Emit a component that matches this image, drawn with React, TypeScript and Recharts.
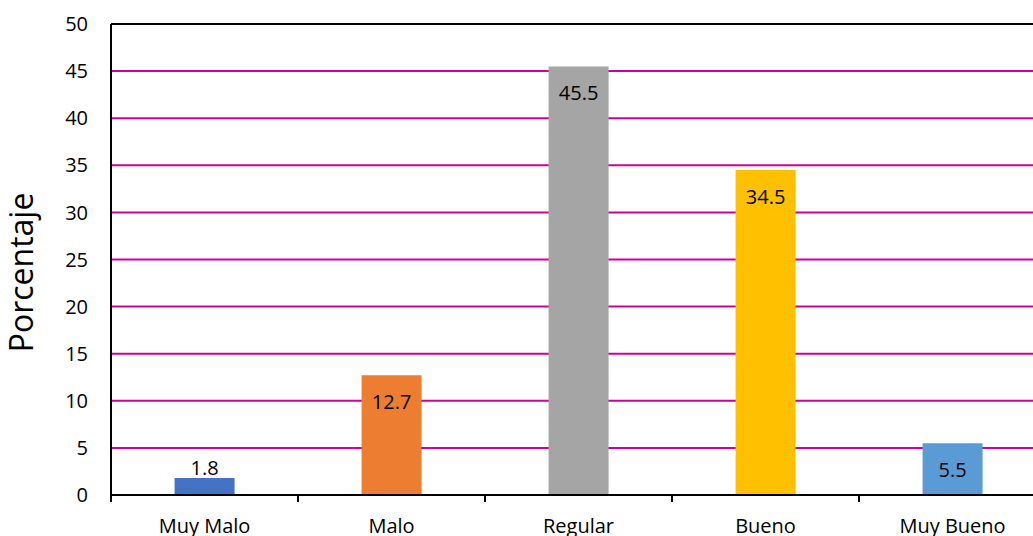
import { BarChart, Bar, XAxis, YAxis, CartesianGrid, Cell, LabelList, ReferenceLine } from "recharts";

const CATEGORIAS = ["Muy Malo", "Malo", "Regular", "Bueno", "Muy Bueno"];
const PORCENTAJES = [1.8, 12.7, 45.5, 34.5, 5.5];
const COLORES = ["#4472C4", "#ED7D31", "#A5A5A5", "#FFC000", "#5B9BD5"];
const TICKS_Y = [0, 5, 10, 15, 20, 25, 30, 35, 40, 45, 50];

const FUENTE = "'Open Sans', 'Noto Sans', sans-serif";

const datos = CATEGORIAS.map((categoria, i) => ({
  categoria,
  porcentaje: PORCENTAJES[i],
}));

// tick del eje X: marca en el borde de la categoría (estilo Excel) + texto centrado
function TickCategoria(props: any) {
  const { x, y, payload } = props;
  const mitad = payload.offset || 0;
  return (
    <g>
      <line x1={x - mitad} y1={y} x2={x - mitad} y2={y + 7} stroke="#000" strokeWidth={2} />
      <text x={x} y={y + 38} textAnchor="middle" fontSize={20} fontFamily={FUENTE} fill="#000">
        {payload.value}
      </text>
    </g>
  );
}

// etiqueta de valor: dentro de la barra arriba, o encima si es muy baja
function EtiquetaValor(props: any) {
  const { x, y, width, value } = props;
  const dentro = value >= 5;
  return (
    <text
      x={x + width / 2}
      y={dentro ? y + 34 : y - 3}
      textAnchor="middle"
      fontSize={20}
      fontFamily={FUENTE}
      fill="#000"
    >
      {value}
    </text>
  );
}

function EtiquetaEjeY(props: any) {
  const { viewBox } = props;
  const cy = viewBox.y + viewBox.height / 2 + 13;
  return (
    <text
      x={33}
      y={cy}
      transform={`rotate(-90, 33, ${cy})`}
      textAnchor="middle"
      fontSize={32}
      fontFamily={FUENTE}
      fill="#000"
    >
      Porcentaje
    </text>
  );
}

export default function App() {
  return (
    <div style={{ width: 1033, height: 536, overflow: "hidden", position: "relative", background: "#fff" }}>
      <style>{"body{margin:0;overflow:hidden}"}</style>
      <BarChart
        width={1060}
        height={570}
        data={datos}
        margin={{ top: 24, right: 14, left: 0, bottom: 0 }}
        barCategoryGap="34%"
      >
        <CartesianGrid vertical={false} stroke="#CC0099" strokeWidth={2} />
        <XAxis
          dataKey="categoria"
          height={75}
          tick={<TickCategoria />}
          tickLine={false}
          tickSize={0}
          tickMargin={0}
          axisLine={{ stroke: "#000", strokeWidth: 2 }}
          interval={0}
        />
        <YAxis
          domain={[0, 50]}
          ticks={TICKS_Y}
          width={111}
          tickLine={false}
          tickSize={0}
          tickMargin={23}
          axisLine={{ stroke: "#000", strokeWidth: 2 }}
          tick={{ fontSize: 20, fontFamily: FUENTE, fill: "#000" }}
          label={<EtiquetaEjeY />}
        />
        <ReferenceLine y={50} stroke="#000" strokeWidth={2} />
        <Bar dataKey="porcentaje" isAnimationActive={false}>
          {datos.map((_, i) => (
            <Cell key={i} fill={COLORES[i]} />
          ))}
          <LabelList dataKey="porcentaje" content={<EtiquetaValor />} />
        </Bar>
      </BarChart>
    </div>
  );
}
